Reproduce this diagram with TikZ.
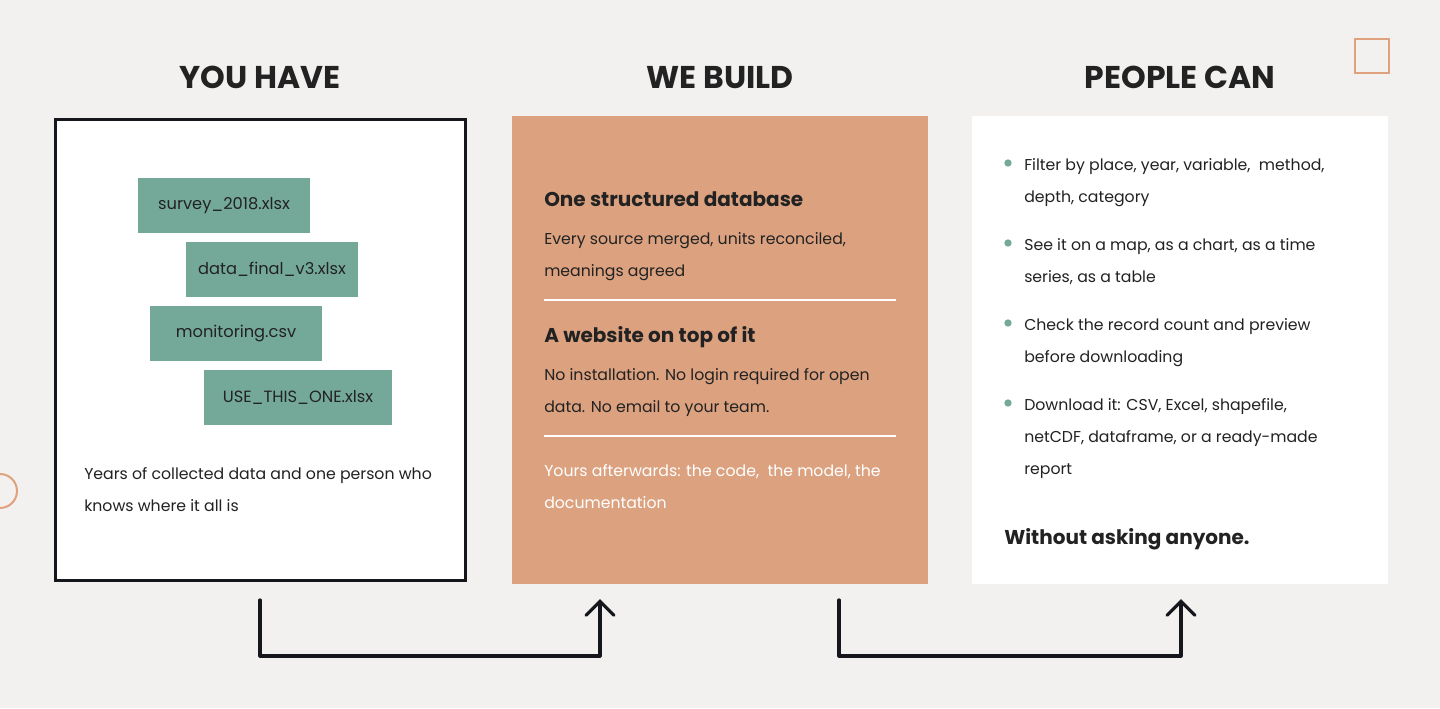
\documentclass[tikz,border=0pt]{standalone}
\usepackage{fontspec}
\setmainfont{Poppins}
\usetikzlibrary{arrows.meta}
\definecolor{bg}{HTML}{F2F1EF}
\definecolor{ink}{HTML}{222222}
\definecolor{frame}{HTML}{16171C}
\definecolor{clay}{HTML}{DCA280}
\definecolor{clayline}{HTML}{E0A27E}
\definecolor{teal}{HTML}{74A99A}
\tikzset{
  head/.style={font=\fontsize{23.6}{28}\selectfont\bfseries, text=ink, anchor=base, inner sep=0pt},
  sub/.style={font=\fontsize{15}{18}\selectfont\bfseries, text=ink, anchor=base west, inner sep=0pt},
  body/.style={font=\fontsize{11.8}{24}\selectfont, text=ink, anchor=base west, inner sep=0pt, align=left},
  filebox/.style={fill=teal, minimum height=41.25pt, inner sep=0pt, font=\fontsize{12.2}{14}\selectfont, text=ink},
  bullet/.style={circle, fill=teal, inner sep=0pt, minimum size=5.5pt},
  flow/.style={draw=frame, line width=2.4pt, line cap=round, line join=round, -{Straight Barb[length=10.5pt, width=21pt, line cap=round]}}
}
\begin{document}
\begin{tikzpicture}[x=0.75pt, y=-0.75pt]
\fill[bg] (0,0) rectangle (1440,708);
\useasboundingbox (0,0) rectangle (1440,708);
% decorations
\draw[clayline, line width=1.8pt] (1355,39) rectangle (1389,73);
\draw[clayline, line width=1.5pt] (0,491) circle (17);
% headers
\node[head] (h1) at (260,88) {YOU HAVE};
\node[head] (h2) at (720,88) {WE BUILD};
\node[head] (h3) at (1180,88) {PEOPLE CAN};
% boxes
\node[draw=frame, line width=2.4pt, fill=white, minimum width=307.5pt, minimum height=345.75pt, inner sep=0pt] (b1) at (260.5,350) {};
\node[fill=clay, minimum width=312pt, minimum height=351pt, inner sep=0pt, anchor=north west] (b2) at (512,116) {};
\node[fill=white, minimum width=312pt, minimum height=351pt, inner sep=0pt, anchor=north west] (b3) at (972,116) {};
% files
\node[filebox, minimum width=129pt] (f1) at (224,205.5) {survey\_2018.xlsx};
\node[filebox, minimum width=129pt] (f2) at (272,269.5) {data\_final\_v3.xlsx};
\node[filebox, minimum width=129pt] (f3) at (236,333.5) {monitoring.csv};
\node[filebox, minimum width=141pt] (f4) at (298,397.5) {USE\_THIS\_ONE.xlsx};
\node[body] (t1) at (84,511) {Years of collected data and one person who\\knows where it all is};
% middle
\node[sub] (s1) at (544,206) {One structured database};
\node[body] (m1) at (544,276) {Every source merged, units reconciled,\\meanings agreed};
\draw[white, line width=1.5pt] (544,300) -- (896,300);
\node[sub] (s2) at (544,342) {A website on top of it};
\node[body] (m2) at (544,412) {No installation. No login required for open\\data. No email to your team.};
\draw[white, line width=1.5pt] (544,436) -- (896,436);
\node[body, text=white] (m3) at (544,508) {Yours afterwards: the code,\ \ the model, the\\documentation};
% right
\node[bullet] (d1) at (1008,163) {};
\node[body] (r1) at (1024,202) {Filter by place, year, variable,\ \ method,\\depth, category};
\node[bullet] (d2) at (1008,243) {};
\node[body] (r2) at (1024,282) {See it on a map, as a chart, as a time\\series, as a table};
\node[bullet] (d3) at (1008,323) {};
\node[body] (r3) at (1024,362) {Check the record count and preview\\before downloading};
\node[bullet] (d4) at (1008,403) {};
\node[body] (r4) at (1024,474) {Download it: CSV, Excel, shapefile,\\netCDF, dataframe, or a ready-made\\report};
\node[sub] (r5) at (1004,544) {Without asking anyone.};
% connectors
\coordinate (a1s) at (260,600);
\coordinate (a1e) at (600,599);
\coordinate (a2s) at (839,600);
\coordinate (a2e) at (1181,599);
\draw[flow] (a1s) -- (260,656) -| (a1e);
\draw[flow] (a2s) -- (839,656) -| (a2e);
\end{tikzpicture}
\end{document}
